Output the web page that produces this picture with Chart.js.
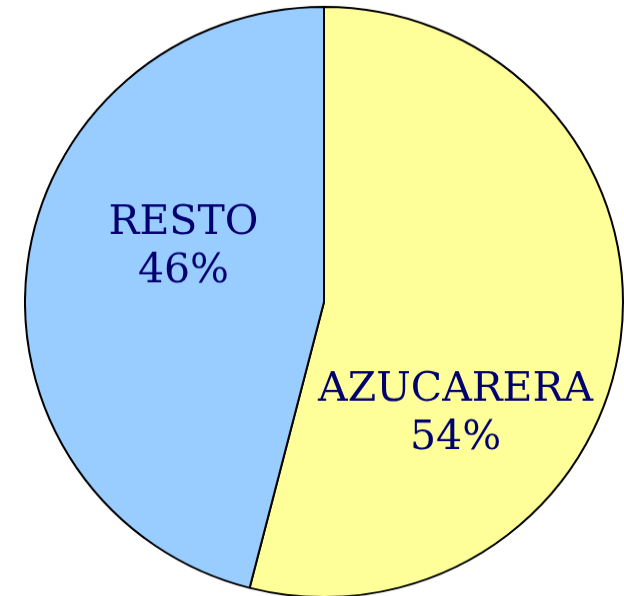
<!DOCTYPE html>
<html>
<head>
<meta charset="utf-8">
<script src="https://cdn.jsdelivr.net/npm/chart.js@4.4.0/dist/chart.umd.min.js"></script>
<style>
    html, body { margin: 0; padding: 0; background: #ffffff; overflow: hidden; }
    #wrap { position: absolute; left: 24px; top: 2px; width: 600px; height: 600px;
            transform: scaleY(0.987); transform-origin: 50% 50%; }
</style>
</head>
<body>
<div id="wrap"><canvas id="pieChart"></canvas></div>
<script>
// Datos del gráfico
const categorias = ['AZUCARERA', 'RESTO'];
const porcentajes = [54, 46];
const colores = ['#FFFF99', '#99CCFF'];

// Posición de cada etiqueta relativa al centro (en fracción del radio)
const posEtiquetas = [
    { dx: 0.44, dy: 0.38 },
    { dx: -0.47, dy: -0.187 }
];

// Plugin sencillo para escribir nombre + porcentaje dentro de cada sector
const etiquetasPlugin = {
    id: 'etiquetas',
    afterDatasetsDraw(chart) {
        const ctx = chart.ctx;
        const arcs = chart.getDatasetMeta(0).data;
        ctx.save();
        ctx.fillStyle = '#00006e';
        ctx.font = "41px 'DejaVu Serif', serif";
        ctx.textAlign = 'center';
        ctx.textBaseline = 'middle';
        arcs.forEach((arc, i) => {
            const r = arc.outerRadius;
            const x = arc.x + posEtiquetas[i].dx * r;
            const y = arc.y + posEtiquetas[i].dy * r;
            ctx.fillText(categorias[i], x, y - 24);
            ctx.fillText(porcentajes[i] + '%', x, y + 25);
        });
        ctx.restore();
    }
};

new Chart(document.getElementById('pieChart'), {
    type: 'pie',
    data: {
        labels: categorias,
        datasets: [{
            data: porcentajes,
            backgroundColor: colores,
            borderColor: '#000000',
            borderWidth: 2
        }]
    },
    options: {
        responsive: true,
        maintainAspectRatio: false,
        animation: false,
        layout: { padding: 0 },
        plugins: {
            legend: { display: false },
            tooltip: { enabled: false }
        }
    },
    plugins: [etiquetasPlugin]
});
</script>
</body>
</html>
